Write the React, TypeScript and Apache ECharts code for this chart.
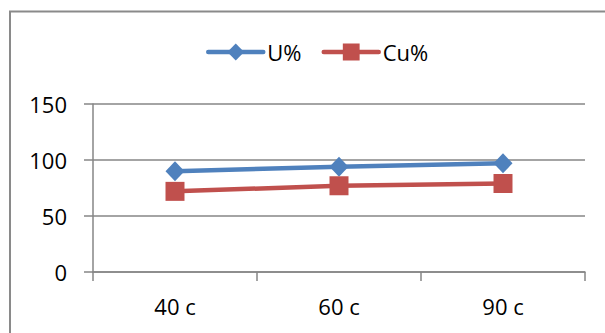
import React, { useEffect, useRef } from "react";
import * as echarts from "echarts";

const categories = ["40 c", "60 c", "90 c"];
const uValues = [90, 94, 97];
const cuValues = [72, 77, 79];
const seriesNames = ["U%", "Cu%"];

const GRAY = "#868686";
const FONT = "Open Sans";

export default function App() {
  const ref = useRef<HTMLDivElement>(null);
  useEffect(() => {
    if (!ref.current) return;
    const chart = echarts.init(ref.current, undefined, { renderer: "svg" });
    chart.setOption({
      animation: false,
      backgroundColor: "#ffffff",
      graphic: [
        {
          type: "rect",
          shape: { x: 10, y: 11.5, width: 700, height: 400 },
          style: { fill: "none", stroke: "#8a8a8a", lineWidth: 2 },
          silent: true,
        },
      ],
      legend: {
        left: 206,
        top: 41,
        padding: 0,
        itemWidth: 55,
        itemHeight: 21,
        itemGap: 20,
        lineStyle: { width: 4.5, cap: "round" },
        textStyle: { fontFamily: FONT, fontSize: 22, color: "#000", padding: [0, 0, 0, -1] },
        data: seriesNames,
      },
      grid: { left: 93, right: 20, top: 104, bottom: 61 },
      xAxis: {
        type: "category",
        data: categories,
        boundaryGap: true,
        axisLine: { lineStyle: { color: GRAY, width: 1.5 } },
        axisTick: { show: true, length: 9, lineStyle: { color: GRAY, width: 1.5 } },
        axisLabel: { fontFamily: FONT, fontSize: 22, color: "#000", margin: 23 },
      },
      yAxis: {
        type: "value",
        min: 0,
        max: 150,
        interval: 50,
        axisLine: { show: true, lineStyle: { color: GRAY, width: 1.5 } },
        axisTick: { show: true, length: 9, lineStyle: { color: GRAY, width: 1.5 } },
        splitLine: { lineStyle: { color: GRAY, width: 1.5 } },
        axisLabel: { fontFamily: FONT, fontSize: 22, color: "#000", margin: 26 },
      },
      series: [
        {
          name: seriesNames[0],
          type: "line",
          data: uValues,
          symbol: "diamond",
          symbolSize: [19, 20],
          lineStyle: { color: "#4F81BD", width: 4.5 },
          itemStyle: { color: "#4F81BD" },
        },
        {
          name: seriesNames[1],
          type: "line",
          data: cuValues,
          symbol: "rect",
          symbolSize: 19,
          lineStyle: { color: "#C0504D", width: 4.5 },
          itemStyle: { color: "#C0504D" },
        },
      ],
    });
    return () => chart.dispose();
  }, []);
  return (
    <div
      ref={ref}
      style={{ position: "absolute", left: 0, top: 0, width: 605, height: 333 }}
    />
  );
}
